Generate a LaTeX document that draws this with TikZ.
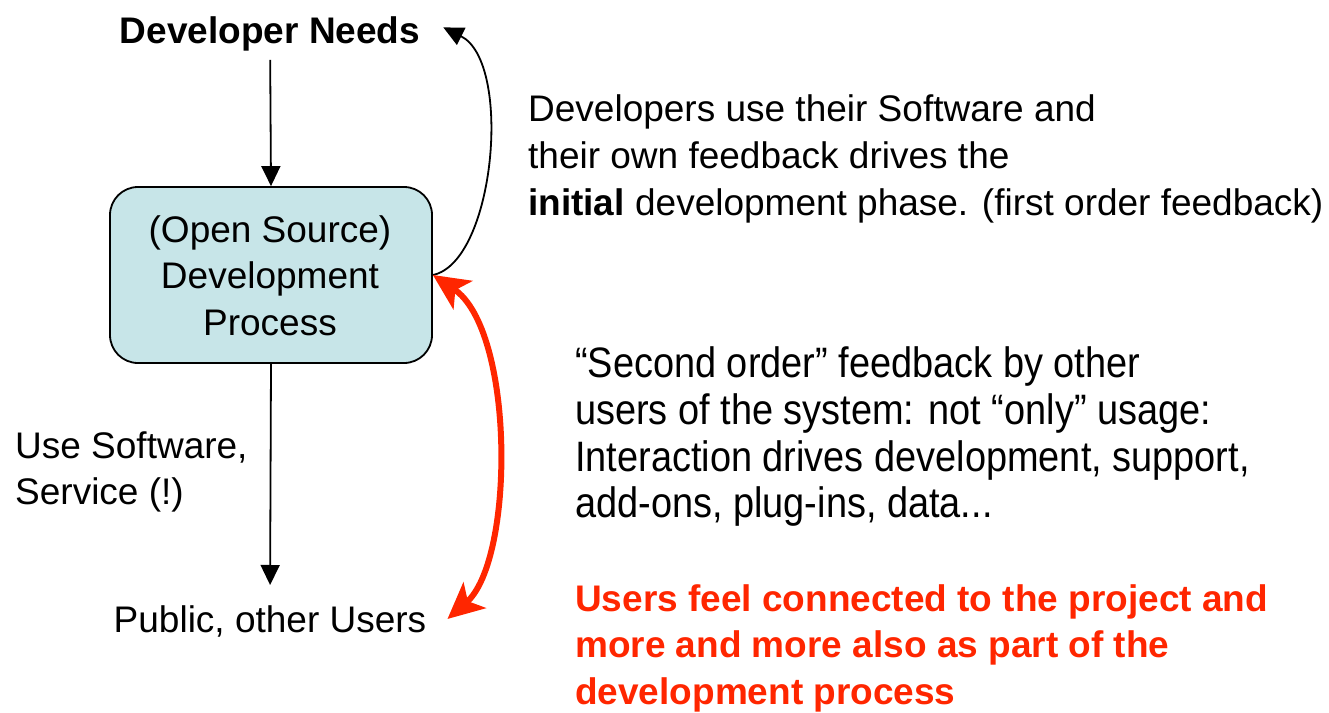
\documentclass[tikz,border=0pt]{standalone}
\usepackage{fontspec}
\setmainfont{Liberation Sans}
\usepackage{graphicx}
\usetikzlibrary{arrows.meta}
\definecolor{boxfill}{RGB}{199,229,232}
\definecolor{fbred}{RGB}{255,38,0}
\tikzset{
  txt/.style={inner sep=0pt, font=\fontsize{37}{47}\selectfont},
  ltxt/.style={txt, anchor=base west},
  ctxt/.style={txt, anchor=base},
  procbox/.style={draw, line width=1.8pt, fill=boxfill, rounded corners=28pt, minimum width=322pt, minimum height=176pt, inner sep=0pt},
  flow/.style={line width=1.8pt, -{Triangle[length=20pt,width=19pt]}},
  redfb/.style={line width=6pt, draw=fbred, {Stealth[length=36pt,width=34pt,inset=9pt]}-{Stealth[length=36pt,width=34pt,inset=9pt]}}
}
\newcommand{\tallline}[1]{\scalebox{1.025}[1.15]{#1}}
\begin{document}
\begin{tikzpicture}[x=1pt,y=-1pt]
\useasboundingbox (0,0) rectangle (1329,712);
% left column
\node[ctxt, font=\fontsize{37}{47}\selectfont\bfseries] (needs) at (270,43) {Developer Needs};
\node[procbox] (proc) at (271,275) {};
\node[ctxt] (p1) at (270,242) {(Open Source)};
\node[ctxt] (p2) at (270,288) {Development};
\node[ctxt] (p3) at (270,335) {Process};
\node[ltxt] (use1) at (15,458) {Use Software,};
\node[ltxt] (use2) at (15,504) {Service (!)};
\node[ctxt] (users) at (270,632) {Public, other Users};
% connectors
\draw[flow, shorten <=9pt] (needs) -- (proc.north);
\draw[flow, shorten >=20pt] (proc.south) -- (users.north);
\draw[flow] (proc.east) .. controls (495,262) and (513,62) .. ([xshift=23pt,yshift=6pt]needs.east);
\draw[redfb] (proc.east) .. controls (515,330) and (515,560) .. ([xshift=21pt,yshift=2pt]users.east);
% right texts
\node[ltxt] (a1) at (528,121) {Developers use their Software and};
\node[ltxt] (a2) at (528,168) {their own feedback drives the};
\node[ltxt] (a3) at (528,215) {\textbf{initial} development phase. (first order feedback)};
\node[ltxt] (b1) at (575,377) {\tallline{“Second order” feedback by other}};
\node[ltxt] (b2) at (575,424) {\tallline{users of the system: not “only” usage:}};
\node[ltxt] (b3) at (575,471) {\tallline{Interaction drives development, support,}};
\node[ltxt] (b4) at (575,517) {\tallline{add-ons, plug-ins, data...}};
\node[ltxt, text=fbred, font=\fontsize{37}{47}\selectfont\bfseries] (c1) at (575,611) {Users feel connected to the project and};
\node[ltxt, text=fbred, font=\fontsize{37}{47}\selectfont\bfseries] (c2) at (575,657) {more and more also as part of the};
\node[ltxt, text=fbred, font=\fontsize{37}{47}\selectfont\bfseries] (c3) at (575,704) {development process};
\end{tikzpicture}
\end{document}
